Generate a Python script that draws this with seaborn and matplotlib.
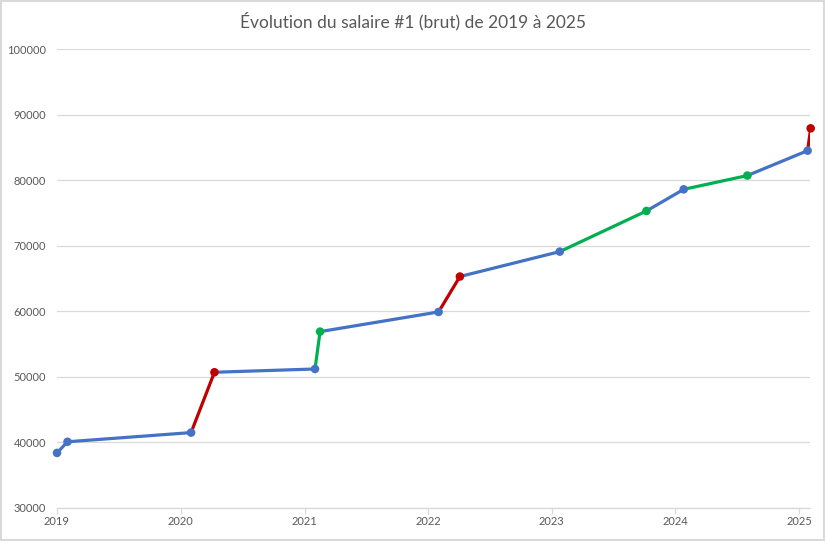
import pandas as pd
import numpy as np
import matplotlib
matplotlib.use("Agg")
import matplotlib.pyplot as plt
import matplotlib.dates as mdates
from matplotlib.patches import Rectangle
import seaborn as sns

# Data
dates = ["2019-01-01", "2019-02-01", "2020-02-01", "2020-04-10", "2021-02-01",
         "2021-02-16", "2022-02-01", "2022-04-05", "2023-01-25", "2023-10-08",
         "2024-01-26", "2024-08-01", "2025-01-26", "2025-02-04"]
salaires = [38400, 40100, 41500, 50700, 51200, 56900, 59900, 65300, 69100, 75300,
            78600, 80700, 84500, 87900]
types = ["base", "base", "base", "hausse", "base", "promo", "base", "hausse", "base",
         "promo", "base", "promo", "base", "hausse"]
title = "Évolution du salaire #1 (brut) de 2019 à 2025"

palette = {"base": "#4472C4", "hausse": "#C00000", "promo": "#00B050"}

df = pd.DataFrame({"date": pd.to_datetime(dates), "salaire": salaires, "type": types})

sns.set_theme(style="white")
plt.rcParams["font.family"] = ["Lato", "DejaVu Sans"]

fig = plt.figure(figsize=(8.25, 5.41), dpi=100)
ax = fig.add_axes([57/825, 1 - 508/541, (810 - 57)/825, (508 - 49)/541])

for i in range(1, len(df)):
    seg = df.iloc[i-1:i+1]
    sns.lineplot(data=seg, x="date", y="salaire", ax=ax, color=palette[df["type"].iloc[i]],
                 linewidth=2.3, sort=False, estimator=None, zorder=3)

sc = sns.scatterplot(data=df, x="date", y="salaire", hue="type", palette=palette, ax=ax,
                     s=38, edgecolor="none", legend=False, zorder=4)
for c in ax.collections:
    c.set_clip_on(False)

ax.set_ylim(30000, 100000)
ax.set_yticks(np.arange(30000, 100001, 10000))
ax.set_xlim(pd.Timestamp("2019-01-01"), pd.Timestamp("2025-02-02"))
ax.xaxis.set_major_locator(mdates.YearLocator())
ax.xaxis.set_major_formatter(mdates.DateFormatter("%Y"))

ax.grid(axis="y", color="#D9D9D9", linewidth=0.9)
ax.grid(axis="x", visible=False)
for s in ["top", "right", "left"]:
    ax.spines[s].set_visible(False)
ax.spines["bottom"].set_color("#D9D9D9")
ax.spines["bottom"].set_linewidth(0.9)
ax.tick_params(axis="x", which="major", length=4, color="#D9D9D9", width=0.9,
               direction="out", labelsize=8, labelcolor="#595959", pad=2, bottom=True)
ax.tick_params(axis="y", length=0, labelsize=8, labelcolor="#595959", pad=8)
ax.set_xlabel("")
ax.set_ylabel("")

fig.text(413/825, 1 - 21/541, title, ha="center", va="center", fontsize=12.5, color="#595959")

fig.patches.append(Rectangle((0.001, 0.001), 0.998, 0.997, transform=fig.transFigure,
                             fill=False, edgecolor="#D9D9D9", linewidth=1.5))

fig.savefig("out.png", dpi=100)
